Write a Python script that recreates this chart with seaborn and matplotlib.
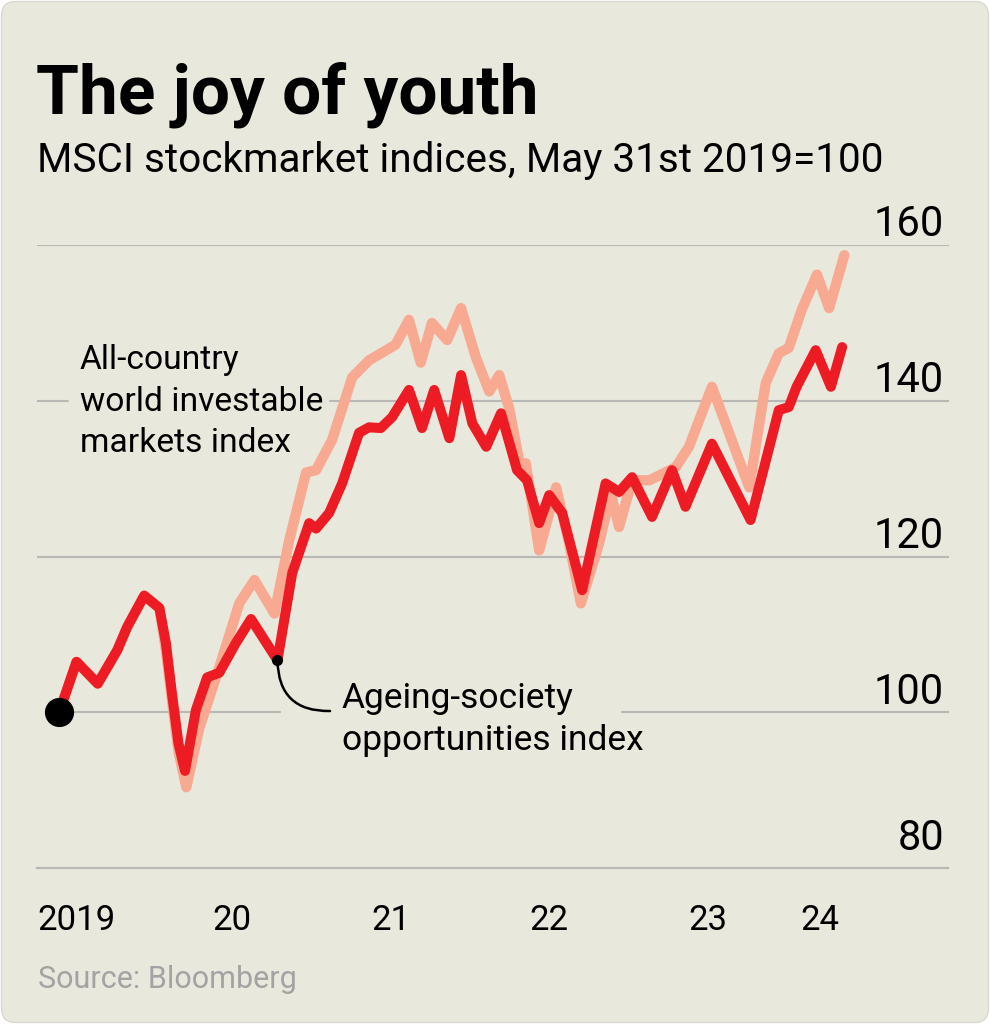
import pandas as pd
import matplotlib.pyplot as plt
import seaborn as sns
from matplotlib.patches import FancyBboxPatch
from matplotlib.transforms import offset_copy

# data (index, May 31st 2019 = 100)
ageing_dates = ["2019-05-31", "2019-07-10", "2019-08-28", "2019-10-12", "2019-11-04", "2019-12-13",
                "2020-01-17", "2020-02-01", "2020-02-15", "2020-03-01", "2020-03-16", "2020-04-10",
                "2020-05-06", "2020-06-03", "2020-07-11", "2020-08-15", "2020-10-15", "2020-11-18",
                "2020-12-27", "2021-01-12", "2021-02-11", "2021-03-13", "2021-04-21", "2021-05-14",
                "2021-06-10", "2021-07-06", "2021-08-14", "2021-09-13", "2021-10-11", "2021-11-15",
                "2021-12-12", "2022-01-07", "2022-02-08", "2022-03-14", "2022-04-20", "2022-05-13",
                "2022-06-10", "2022-07-03", "2022-08-02", "2022-09-17", "2022-11-10", "2022-12-11",
                "2023-01-10", "2023-02-25", "2023-04-12", "2023-05-13", "2023-07-13", "2023-10-10",
                "2023-12-14", "2024-01-06", "2024-01-24", "2024-03-08", "2024-04-12", "2024-05-08"]
ageing = [100, 106.5, 103.7, 108, 111, 115,
          113.4, 108.9, 102.4, 96, 92.5, 100.3,
          104.5, 105.1, 108.9, 112, 106.7, 117.9,
          124.3, 123.6, 125.6, 129.4, 135.9, 136.6,
          136.5, 137.9, 141.4, 136.5, 141.4, 135.2,
          143.3, 137.1, 134.1, 138.4, 131.1, 129.8,
          124.3, 127.9, 125.6, 115.7, 129.4, 128.3,
          130.2, 125.1, 131.1, 126.4, 134.5, 124.7,
          138.8, 139.2, 141.8, 146.5, 141.8, 146.9]

world_dates = ["2019-05-31", "2019-07-10", "2019-08-28", "2019-10-12", "2019-11-04", "2019-12-13",
               "2020-01-17", "2020-02-01", "2020-02-15", "2020-03-01", "2020-03-19", "2020-04-18",
               "2020-06-03", "2020-07-19", "2020-08-23", "2020-10-08", "2020-11-11", "2020-12-20",
               "2021-01-12", "2021-02-18", "2021-04-05", "2021-05-14", "2021-07-14", "2021-08-14",
               "2021-09-10", "2021-10-06", "2021-11-10", "2021-12-12", "2022-01-15", "2022-02-15",
               "2022-03-10", "2022-04-02", "2022-04-29", "2022-05-10", "2022-06-10", "2022-07-19",
               "2022-08-18", "2022-09-14", "2022-10-26", "2022-11-22", "2022-12-11", "2023-01-10",
               "2023-02-19", "2023-04-21", "2023-05-21", "2023-07-13", "2023-10-07", "2023-11-14",
               "2023-12-14", "2024-01-06", "2024-02-05", "2024-03-11", "2024-04-08", "2024-05-13"]
world = [100, 106.5, 103.7, 108, 111, 115,
         113.4, 108, 101.5, 95, 90.4, 98,
         105.8, 114, 117, 112.7, 122.1, 130.8,
         131.1, 135, 143, 145.2, 147.2, 150.4,
         144.9, 150, 147.8, 151.9, 145.6, 141.2,
         143.3, 139, 131.1, 132, 120.8, 128.9,
         121.7, 114, 121.7, 128.1, 123.8, 129.8,
         129.8, 131.5, 134.1, 141.8, 128.9, 142.3,
         146.1, 146.8, 151.7, 156.2, 151.9, 158.7]

y_ticks = [80, 100, 120, 140, 160]
x_ticks = ["2019-05-01", "2020-01-01", "2021-01-01", "2022-01-01", "2023-01-01", "2024-01-01", "2024-06-01"]
x_labels = ["2019", "20", "21", "22", "23", "24"]
callout_date = "2020-10-15"

BG = "#e9e8dd"
RED = "#ed1c24"
PINK = "#f8a991"
GRID = "#b8b8b5"

sns.set_style("white")
plt.rcParams["font.family"] = ["Roboto", "DejaVu Sans"]
plt.rcParams["text.color"] = "black"

W, H = 990, 1024
def fx(x):
    return x / W
def fy(y):
    return 1 - y / H

fig = plt.figure(figsize=(W / 100, H / 100), dpi=100, facecolor="white")
fig.patches.append(FancyBboxPatch((fx(1.5), fy(1022.5)), fx(987), 1021 / H,
                                  boxstyle="round,pad=0,rounding_size=0.014",
                                  transform=fig.transFigure, facecolor=BG,
                                  edgecolor="#d9d9d2", lw=1, zorder=-10))

ax = fig.add_axes([fx(37), fy(868.3), 911.5 / W, 623.3 / H])
ax.patch.set_alpha(0)

# partial gridlines (broken around the labels)
ax.axhline(160, 0, 1, color=GRID, lw=1.5, zorder=0)
ax.axhline(140, 0, (68 - 37) / 911.5, color=GRID, lw=1.5, zorder=0)
ax.axhline(140, (330 - 37) / 911.5, 1, color=GRID, lw=1.5, zorder=0)
ax.axhline(120, 0, 1, color=GRID, lw=1.5, zorder=0)
ax.axhline(100, (55 - 37) / 911.5, (280 - 37) / 911.5, color=GRID, lw=1.5, zorder=0)
ax.axhline(100, (622 - 37) / 911.5, 1, color=GRID, lw=1.5, zorder=0)

df_w = pd.DataFrame({"date": pd.to_datetime(world_dates), "value": world})
df_a = pd.DataFrame({"date": pd.to_datetime(ageing_dates), "value": ageing})
sns.lineplot(data=df_w, x="date", y="value", ax=ax, color=PINK, lw=7.4,
             solid_capstyle="round", solid_joinstyle="round", clip_on=False, zorder=2)
sns.lineplot(data=df_a, x="date", y="value", ax=ax, color=RED, lw=7.2,
             solid_capstyle="round", solid_joinstyle="round", clip_on=False, zorder=3)

# start dot and callout dot
ax.plot(df_a["date"].iloc[0], df_a["value"].iloc[0], "o", color="black", ms=20, zorder=5, clip_on=False)
cd = pd.Timestamp(callout_date)
cv = df_a.loc[df_a["date"] == cd, "value"].iloc[0]
ax.plot(cd, cv, "o", color="black", ms=7, zorder=5)
ax.annotate("", xy=(cd, cv), xycoords="data", xytext=(fx(330), fy(711)), textcoords="figure fraction",
            arrowprops=dict(arrowstyle="-", color="black", lw=1.8, shrinkA=0, shrinkB=0,
                            connectionstyle="arc3,rad=-0.5"), zorder=4)

ax.set_xlim(pd.Timestamp("2019-04-10"), pd.Timestamp("2025-01-08"))
ax.set_ylim(80, 160)
ax.set_xlabel("")
ax.set_ylabel("")
ax.set_yticks([])

xt = pd.to_datetime(x_ticks)
ax.set_xticks(list(xt[1:-1]))
ax.set_xticks([xt[0], xt[-1]], minor=True)
ax.tick_params(axis="x", which="major", length=13, width=1.5, color=GRID, labelbottom=False)
ax.tick_params(axis="x", which="minor", length=9.5, width=1.5, color=GRID, labelbottom=False)
for s in ["top", "right", "left"]:
    ax.spines[s].set_visible(False)
ax.spines["bottom"].set_color(GRID)
ax.spines["bottom"].set_linewidth(1.6)

# y labels sit on the right, just above their gridline
for v in y_ticks:
    off = 18 if v == 80 else 8.5
    tr = offset_copy(ax.get_yaxis_transform(), fig=fig, y=off, units="dots")
    ax.text((944 - 37) / 911.5, v, str(v), transform=tr, ha="right", va="baseline", fontsize=30)

# x labels centred between the ticks (first one pinned to the left edge)
xl_y = (868.3 - 930) / 623.3
for i, lab in enumerate(x_labels):
    if i == 0:
        ax.text(ax.get_xlim()[0], xl_y, lab, transform=ax.get_xaxis_transform(),
                ha="left", va="baseline", fontsize=25)
    else:
        mid = xt[i] + (xt[i + 1] - xt[i]) / 2
        ax.text(mid, xl_y, lab, transform=ax.get_xaxis_transform(),
                ha="center", va="baseline", fontsize=25)

# series labels
for txt, yb in zip(["All-country", "world investable", "markets index"], [369, 411, 452]):
    fig.text(fx(80), fy(yb), txt, fontsize=24.2, va="baseline")
for txt, yb in zip(["Ageing-society", "opportunities index"], [708, 750]):
    fig.text(fx(342), fy(yb), txt, fontsize=25.5, va="baseline")

fig.text(fx(36), fy(113), "The joy of youth", fontsize=50, fontweight="bold", va="baseline")
fig.text(fx(37), fy(172), "MSCI stockmarket indices, May 31st 2019=100", fontsize=29.2, va="baseline")
fig.text(fx(38), fy(988), "Source: Bloomberg", fontsize=22, color="#a3a3a3", va="baseline")

fig.savefig("out.png", dpi=100, facecolor="white")
